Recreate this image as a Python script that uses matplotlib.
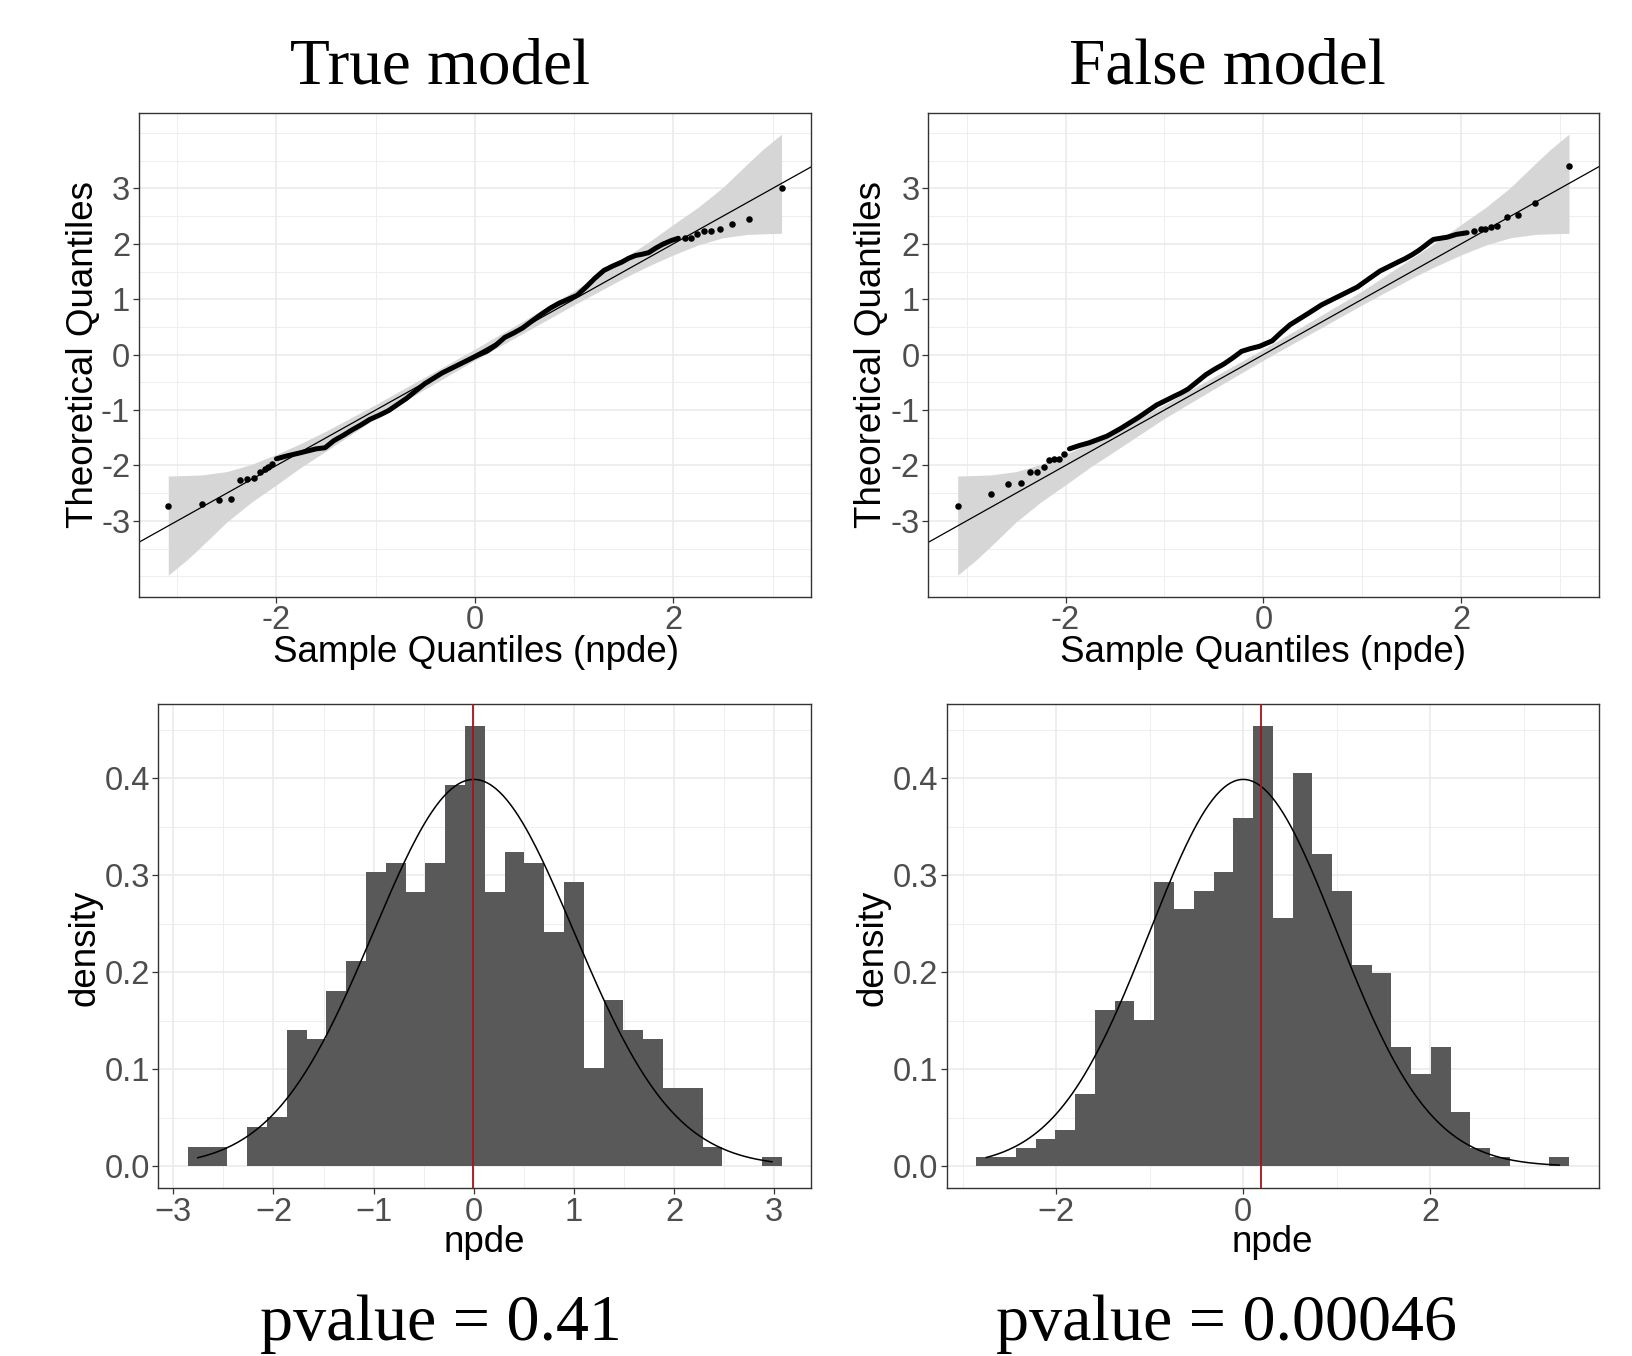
import numpy as np
import matplotlib
matplotlib.use("Agg")
from matplotlib import pyplot as plt

# ---- QQ plot data ----
# isolated points in the lower tail, dense run in the middle, isolated points in the upper tail
qq_true_lo_x = [-3.09, -2.75, -2.58, -2.46, -2.37, -2.30, -2.23, -2.17, -2.12, -2.08, -2.04]
qq_true_lo_y = [-2.73, -2.70, -2.63, -2.60, -2.26, -2.25, -2.22, -2.12, -2.07, -2.02, -1.97]
qq_true_mid_x = [-2.00, -1.90, -1.78, -1.60, -1.51, -1.42, -1.33, -1.24, -1.15, -1.06,
                 -0.96, -0.87, -0.78, -0.69, -0.60, -0.51, -0.42, -0.33, -0.24, -0.15,
                 -0.06, 0.03, 0.12, 0.21, 0.30, 0.39, 0.48, 0.57, 0.67, 0.76,
                 0.85, 0.94, 1.03, 1.12, 1.21, 1.30, 1.39, 1.48, 1.55, 1.62,
                 1.68, 1.75, 1.82, 1.89, 1.98, 2.05]
qq_true_mid_y = [-1.88, -1.83, -1.78, -1.70, -1.68, -1.55, -1.46, -1.36, -1.27, -1.17,
                 -1.09, -1.01, -0.90, -0.79, -0.66, -0.53, -0.43, -0.33, -0.25, -0.17,
                 -0.09, -0.01, 0.06, 0.17, 0.31, 0.39, 0.48, 0.60, 0.73, 0.84,
                 0.93, 1.00, 1.07, 1.22, 1.38, 1.52, 1.60, 1.67, 1.74, 1.79,
                 1.81, 1.84, 1.92, 1.99, 2.06, 2.10]
qq_true_hi_x = [2.12, 2.18, 2.24, 2.31, 2.38, 2.47, 2.59, 2.76, 3.09]
qq_true_hi_y = [2.10, 2.11, 2.17, 2.23, 2.24, 2.26, 2.36, 2.44, 3.00]

qq_false_lo_x = [-3.09, -2.75, -2.58, -2.45, -2.36, -2.29, -2.22, -2.17, -2.12, -2.07, -2.02]
qq_false_lo_y = [-2.73, -2.52, -2.34, -2.31, -2.11, -2.11, -2.02, -1.90, -1.88, -1.88, -1.80]
qq_false_mid_x = [-1.96, -1.86, -1.76, -1.67, -1.58, -1.51, -1.44, -1.35, -1.26, -1.17,
                  -1.08, -0.99, -0.90, -0.83, -0.76, -0.67, -0.58, -0.49, -0.40, -0.31,
                  -0.22, -0.13, -0.04, 0.09, 0.18, 0.27, 0.36, 0.45, 0.52, 0.59,
                  0.68, 0.77, 0.86, 0.95, 1.06, 1.18, 1.27, 1.36, 1.43, 1.50,
                  1.57, 1.63, 1.68, 1.72, 1.79, 1.86, 1.95, 2.06]
qq_false_mid_y = [-1.70, -1.64, -1.59, -1.53, -1.47, -1.40, -1.33, -1.23, -1.13, -1.02,
                  -0.91, -0.83, -0.75, -0.69, -0.62, -0.49, -0.36, -0.26, -0.17, -0.06,
                  0.06, 0.11, 0.15, 0.25, 0.40, 0.54, 0.64, 0.74, 0.82, 0.90,
                  0.98, 1.06, 1.14, 1.22, 1.36, 1.51, 1.59, 1.67, 1.73, 1.80,
                  1.88, 1.96, 2.03, 2.08, 2.10, 2.12, 2.17, 2.20]
qq_false_hi_x = [2.13, 2.20, 2.24, 2.30, 2.36, 2.46, 2.57, 2.75, 3.09]
qq_false_hi_y = [2.24, 2.26, 2.27, 2.30, 2.33, 2.48, 2.52, 2.73, 3.40]

# confidence band (same in both panels)
band_x = [-3.09, -2.90, -2.75, -2.50, -2.25, -2.00, -1.75, -1.50, -1.00, -0.50, 0.00,
          0.50, 1.00, 1.50, 1.75, 2.00, 2.25, 2.50, 2.75, 2.90, 3.09]
band_lo = [-3.98, -3.70, -3.45, -3.02, -2.66, -2.35, -2.03, -1.74, -1.15, -0.62, -0.10,
           0.40, 0.90, 1.38, 1.60, 1.80, 1.98, 2.11, 2.17, 2.18, 2.19]
band_hi = [-2.19, -2.18, -2.17, -2.11, -1.98, -1.80, -1.60, -1.38, -0.90, -0.40, 0.10,
           0.62, 1.15, 1.74, 2.03, 2.35, 2.66, 3.02, 3.45, 3.70, 3.98]

# ---- histogram data (density per bin, 30 bins) ----
hist_true_start = -2.855
hist_true_width = 0.1977
hist_true_dens = [0.020, 0.020, 0.000, 0.041, 0.051, 0.141, 0.131, 0.181, 0.212, 0.303,
                  0.313, 0.283, 0.313, 0.393, 0.454, 0.283, 0.324, 0.313, 0.242, 0.293,
                  0.101, 0.172, 0.141, 0.131, 0.081, 0.081, 0.020, 0.000, 0.000, 0.010]
hist_true_mean = -0.01

hist_false_start = -2.852
hist_false_width = 0.2112
hist_false_dens = [0.010, 0.010, 0.019, 0.028, 0.038, 0.075, 0.161, 0.170, 0.151, 0.293,
                   0.265, 0.284, 0.303, 0.359, 0.454, 0.256, 0.406, 0.322, 0.284, 0.208,
                   0.199, 0.123, 0.095, 0.123, 0.056, 0.019, 0.010, 0.000, 0.000, 0.010]
hist_false_mean = 0.187

titles = ["True model", "False model"]
pvalues = ["pvalue = 0.41", "pvalue = 0.00046"]

W, H = 1633, 1356
SANS = "Liberation Sans"
SERIF = "Liberation Serif"
GRID = "#EBEBEB"
BORDER = "#333333"
TICKC = "#4D4D4D"

fig = plt.figure(figsize=(W / 100, H / 100), dpi=100)


def px_axes(left, top, right, bottom):
    return fig.add_axes([left / W, 1 - bottom / H, (right - left) / W, (bottom - top) / H])


def style_axes(ax, xmaj, xmin, ymaj, ymin, xlabels, ylabels):
    for v in xmin:
        ax.axvline(v, color=GRID, lw=0.6, zorder=0)
    for v in xmaj:
        ax.axvline(v, color=GRID, lw=1.2, zorder=0)
    for v in ymin:
        ax.axhline(v, color=GRID, lw=0.6, zorder=0)
    for v in ymaj:
        ax.axhline(v, color=GRID, lw=1.2, zorder=0)
    ax.set_xticks(xmaj)
    ax.set_xticklabels(xlabels)
    ax.set_yticks(ymaj)
    ax.set_yticklabels(ylabels)
    ax.tick_params(length=4, width=0.9, color=BORDER, labelsize=23.5,
                   labelcolor=TICKC, pad=2)
    for lab in ax.get_xticklabels() + ax.get_yticklabels():
        lab.set_family(SANS)
    for sp in ax.spines.values():
        sp.set_color(BORDER)
        sp.set_linewidth(1.0)


def qq_panel(ax, lo_x, lo_y, mid_x, mid_y, hi_x, hi_y):
    ax.set_xlim(-3.39, 3.39)
    ax.set_ylim(-4.37, 4.37)
    style_axes(ax, [-2, 0, 2], [-3, -1, 1, 3],
               [-3, -2, -1, 0, 1, 2, 3],
               [-4, -3.5, -2.5, -1.5, -0.5, 0.5, 1.5, 2.5, 3.5, 4],
               ["-2", "0", "2"], ["-3", "-2", "-1", "0", "1", "2", "3"])
    ax.fill_between(band_x, band_lo, band_hi, color="#D6D6D6", lw=0, zorder=1)
    ax.axline((0, 0), slope=1, color="black", lw=0.9, zorder=2)
    ax.plot(mid_x, mid_y, color="black", lw=3.6, solid_capstyle="round",
            solid_joinstyle="round", zorder=3)
    ax.scatter(lo_x + hi_x, lo_y + hi_y, s=22, color="black", lw=0, zorder=3)


def hist_panel(ax, start, width, dens, mean, xlim, xmaj, xmin, xlabels):
    edges = start + width * np.arange(len(dens))
    ax.set_xlim(*xlim)
    ax.set_ylim(-0.0227, 0.4767)
    style_axes(ax, xmaj, xmin, [0, 0.1, 0.2, 0.3, 0.4],
               [0.05, 0.15, 0.25, 0.35, 0.45],
               xlabels, ["0.0", "0.1", "0.2", "0.3", "0.4"])
    ax.bar(edges, dens, width=width, align="edge", color="#595959", lw=0, zorder=1)
    # standard normal reference curve over the data range
    xs = np.linspace(start + width / 2, start + width * (len(dens) - 0.5), 300)
    ax.plot(xs, np.exp(-xs ** 2 / 2) / np.sqrt(2 * np.pi), color="black", lw=1.1, zorder=2)
    ax.axvline(mean, color="#A3141C", lw=1.3, zorder=3)


ax1 = px_axes(138.5, 112.5, 811.3, 596.8)
qq_panel(ax1, qq_true_lo_x, qq_true_lo_y, qq_true_mid_x, qq_true_mid_y, qq_true_hi_x, qq_true_hi_y)
ax2 = px_axes(928.0, 112.5, 1598.7, 596.8)
qq_panel(ax2, qq_false_lo_x, qq_false_lo_y, qq_false_mid_x, qq_false_mid_y, qq_false_hi_x, qq_false_hi_y)

ax3 = px_axes(158.3, 704.0, 811.3, 1188.4)
hist_panel(ax3, hist_true_start, hist_true_width, hist_true_dens, hist_true_mean,
           (-3.15, 3.37), [-3, -2, -1, 0, 1, 2, 3],
           [-2.5, -1.5, -0.5, 0.5, 1.5, 2.5],
           ["\u22123", "\u22122", "\u22121", "0", "1", "2", "3"])
ax4 = px_axes(946.7, 704.0, 1598.7, 1188.4)
hist_panel(ax4, hist_false_start, hist_false_width, hist_false_dens, hist_false_mean,
           (-3.17, 3.80), [-2, 0, 2], [-3, -1, 1, 3],
           ["\u22122", "0", "2"])


def ftext(x, y, s, **kw):
    fig.text(x / W, 1 - y / H, s, **kw)


for cx, title, pval in [(440.5, titles[0], pvalues[0]), (1227.0, titles[1], pvalues[1])]:
    ftext(cx, 83, title, family=SERIF, fontsize=47, ha="center", va="baseline")
    ftext(cx, 1340, pval, family=SERIF, fontsize=47.5, ha="center", va="baseline")

for x_ql, x_xl, x_dl, x_nl in [(84, 476, 85, 484), (872, 1263, 873, 1272)]:
    ftext(x_ql, 354, "Theoretical Quantiles", family=SANS, fontsize=26.5,
          rotation=90, ha="center", va="center")
    ftext(x_xl, 653, "Sample Quantiles (npde)", family=SANS, fontsize=26.5,
          ha="center", va="center")
    ftext(x_dl, 948, "density", family=SANS, fontsize=26.5,
          rotation=90, ha="center", va="center")
    ftext(x_nl, 1242, "npde", family=SANS, fontsize=26.5, ha="center", va="center")

fig.savefig("out.png", dpi=100)
